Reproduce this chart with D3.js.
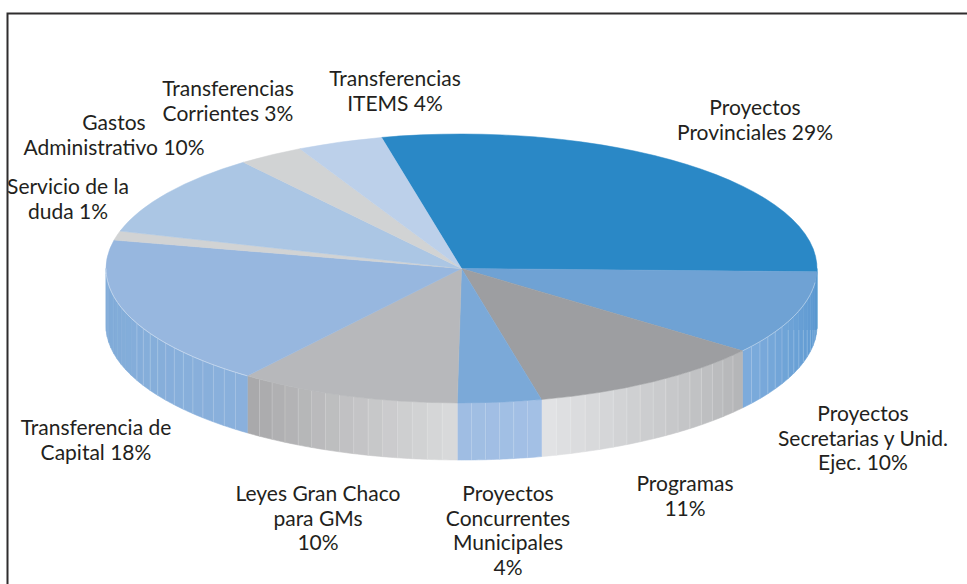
<!DOCTYPE html>
<html>
<head>
<meta charset="utf-8">
<script src="https://cdn.jsdelivr.net/npm/d3@7/dist/d3.min.js"></script>
<style>
html,body{margin:0;padding:0;background:#fff;overflow:hidden}
svg{display:block}
text{font-family:Lato,"Open Sans",sans-serif;font-size:21px;fill:#231f20;text-anchor:middle}
</style>
</head>
<body>
<svg id="c" width="967" height="584"></svg>
<script>
const categories = ["Proyectos Provinciales","Proyectos Secretarias y Unid. Ejec.","Programas","Proyectos Concurrentes Municipales","Leyes Gran Chaco para GMs","Transferencia de Capital","Servicio de la duda","Gastos Administrativo","Transferencias Corrientes","Transferencias ITEMS"];
const values = [29,10.1,10.9,3.8,10.1,18.1,1.1,10,3,3.9];
const topColors = ["#2a88c6","#6fa2d4","#9d9ea1","#7ba9d8","#b7b8bb","#97b7df","#d1d3d4","#abc6e4","#d1d3d4","#bcd0ea"];
const wallStart = ["#2a88c6","#5796cf","#b5b6b8","#a3c0e5","#d8d9da","#8ab0dc","#d1d3d4","#abc6e4","#d1d3d4","#bcd0ea"];
const wallEnd   = ["#2a88c6","#7dabdc","#e1e2e4","#9fbde3","#a9a9ab","#7fabd8","#d1d3d4","#abc6e4","#d1d3d4","#bcd0ea"];
const labelLines = [
  ["Proyectos","Provinciales 29%"],
  ["Proyectos","Secretarias y Unid.","Ejec. 10%"],
  ["Programas","11%"],
  ["Proyectos","Concurrentes","Municipales","4%"],
  ["Leyes Gran Chaco","para GMs","10%"],
  ["Transferencia de","Capital 18%"],
  ["Servicio de la","duda 1%"],
  ["Gastos","Administrativo 10%"],
  ["Transferencias","Corrientes 3%"],
  ["Transferencias","ITEMS 4%"]
];

// layout
const cx = 461.5, cy = 268.5, rx = 355.5, ry = 134.5, depth = 57;
const labelAnchors = [[755,115],[863,421],[685,491],[508,501],[318,501],[96,435],[68,194],[114,130],[228,96],[395,86]];
const dividerTopRight = 330;
const svg = d3.select("#c");
const rad = d => d*Math.PI/180;

const pie = d3.pie().sort(null).value(d=>d).startAngle(rad(-13)).endAngle(rad(347));
const arcs = pie(values);
const px = a => cx + rx*Math.sin(a);
const py = a => cy - ry*Math.cos(a);

// side wall, built as narrow strips over the visible lower half of the rim
const wall = svg.append("g");
const step = rad(2.4);
arcs.forEach((d,i)=>{
  const a0 = Math.max(d.startAngle, rad(90)), a1 = Math.min(d.endAngle, rad(270));
  if (a1 <= a0) return;
  const n = Math.max(1, Math.round((a1-a0)/step));
  const angle = d3.scaleLinear().domain([0,n]).range([a0,a1]);
  const col = d3.scaleLinear().domain([0,n-1||1]).range([wallStart[i],wallEnd[i]]).interpolate(d3.interpolateRgb);
  d3.range(n).forEach(k=>{
    const s = angle(k), e = angle(k+1);
    const pts = d3.range(0,5).map(t=>s+(e-s)*t/4);
    const top = pts.map(a=>[px(a),py(a)]);
    const bot = pts.slice().reverse().map(a=>[px(a),py(a)+depth]);
    wall.append("path")
      .attr("d", d3.line()(top.concat(bot))+"Z")
      .attr("fill", col(k))
      .attr("stroke", col(k))
      .attr("stroke-width", .6);
  });
  d3.range(1,n).forEach(k=>{
    const s = angle(k);
    if (s > rad(247)) return;
    const y1 = s < rad(115) ? Math.max(py(s),dividerTopRight) : py(s);
    wall.append("line")
      .attr("x1",px(s)).attr("y1",y1).attr("x2",px(s)).attr("y2",py(s)+depth)
      .attr("stroke","#fff").attr("stroke-opacity",.26).attr("stroke-width",.8);
  });
});

// top face
const arcGen = d3.arc().innerRadius(0).outerRadius(rx);
const topFace = svg.append("g").attr("transform",`translate(${cx},${cy}) scale(1,${ry/rx})`);
topFace.selectAll("path").data(arcs).join("path")
  .attr("d",arcGen)
  .attr("fill",(d,i)=>topColors[i])
  .attr("stroke",(d,i)=>topColors[i])
  .attr("stroke-width",.5)
  .attr("vector-effect","non-scaling-stroke");

// pale rim highlight on the two blue slices that show one
[1,5].forEach(i=>{
  const a0 = Math.max(arcs[i].startAngle, rad(96)), a1 = Math.min(arcs[i].endAngle, rad(270));
  const pts = d3.range(0,41).map(t=>{const a=a0+(a1-a0)*t/40;return [px(a),py(a)];});
  svg.append("path").attr("d",d3.line()(pts)).attr("fill","none")
    .attr("stroke","#fff").attr("stroke-opacity",.55).attr("stroke-width",.7);
});

// labels
labelLines.forEach((lines,i)=>{
  const t = svg.append("text").attr("data-category",categories[i]);
  lines.forEach((s,j)=>{
    t.append("tspan").attr("x",labelAnchors[i][0]).attr("y",labelAnchors[i][1]+j*24.5).text(s);
  });
});

// frame
svg.append("path").attr("d","M7.5 584V13.5H967").attr("fill","none").attr("stroke","#2f2d2e").attr("stroke-width",2);
</script>
</body>
</html>
